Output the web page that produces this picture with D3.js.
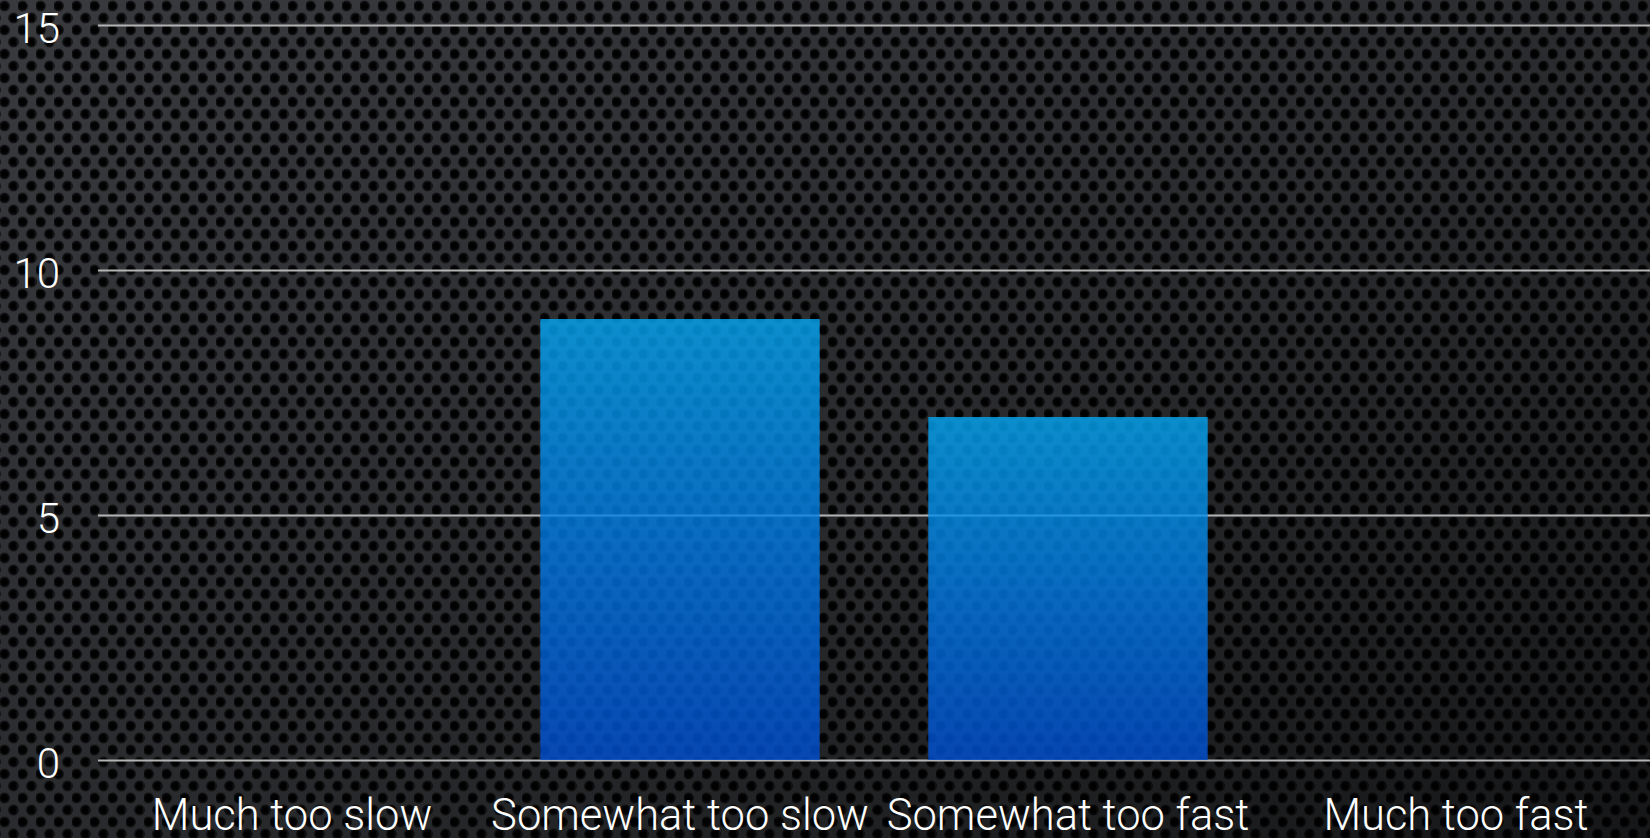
<!DOCTYPE html>
<html>
<head>
<meta charset="utf-8">
<script src="https://cdn.jsdelivr.net/npm/d3@7"></script>
<style>
  html, body { margin: 0; padding: 0; background: #111; }
  svg { display: block; }
</style>
</head>
<body>
<svg id="chart" width="1650" height="838"></svg>
<script>
// Survey answers: how the pace felt
const categories = ["Much too slow", "Somewhat too slow", "Somewhat too fast", "Much too fast"];
const counts = [0, 9, 7, 0];
const yTicks = [0, 5, 10, 15];

const W = 1650, H = 838;
const svg = d3.select("#chart");
const defs = svg.append("defs");

// Perforated carbon texture
const pat = defs.append("pattern")
  .attr("id", "mesh").attr("patternUnits", "userSpaceOnUse")
  .attr("width", 18).attr("height", 24);
const hole = defs.append("radialGradient").attr("id", "hole");
hole.append("stop").attr("offset", "0%").attr("stop-color", "#000");
hole.append("stop").attr("offset", "50%").attr("stop-color", "#030303");
hole.append("stop").attr("offset", "78%").attr("stop-color", "#1a1b1d");
hole.append("stop").attr("offset", "100%").attr("stop-color", "#3e4044").attr("stop-opacity", 0);
pat.append("rect").attr("width", 18).attr("height", 24).attr("fill", "#3e4044");
[[4.5, 6], [13.5, 18], [-4.5, 18], [22.5, 18], [4.5, 30], [13.5, -6]].forEach(([cx, cy]) => {
  pat.append("circle").attr("cx", cx).attr("cy", cy).attr("r", 6.4).attr("fill", "url(#hole)");
});

// Light falloff toward the lower right
const shade = defs.append("linearGradient").attr("id", "shade")
  .attr("x1", "0").attr("y1", "0").attr("x2", "1").attr("y2", "1");
shade.append("stop").attr("offset", "0%").attr("stop-color", "#000").attr("stop-opacity", 0.1);
shade.append("stop").attr("offset", "55%").attr("stop-color", "#000").attr("stop-opacity", 0.35);
shade.append("stop").attr("offset", "100%").attr("stop-color", "#000").attr("stop-opacity", 0.65);

svg.append("rect").attr("width", W).attr("height", H).attr("fill", "url(#mesh)");
svg.append("rect").attr("width", W).attr("height", H).attr("fill", "url(#shade)");

// Bar fill
const barGrad = defs.append("linearGradient").attr("id", "barGrad")
  .attr("x1", "0").attr("y1", "0").attr("x2", "0").attr("y2", "1");
barGrad.append("stop").attr("offset", "0%").attr("stop-color", "#04a6f4");
barGrad.append("stop").attr("offset", "100%").attr("stop-color", "#0050d4");

const plotLeft = 98, plotRight = 1650;
const x = d3.scaleBand().domain(categories).range([plotLeft, plotRight])
  .paddingInner(0.28).paddingOuter(0.14);
const y = d3.scaleLinear().domain([0, 15]).range([760, 25]);

const font = "Roboto, 'Helvetica Neue', Arial, sans-serif";

// Horizontal grid lines with value labels
const yAxis = d3.axisLeft(y).tickValues(yTicks).tickSize(-(plotRight - plotLeft)).tickPadding(38);
const gy = svg.append("g").attr("transform", `translate(${plotLeft},0)`).call(yAxis);
gy.select(".domain").remove();
gy.selectAll(".tick line").attr("stroke", "#b4b4b4").attr("stroke-width", 2);
gy.selectAll(".tick text")
  .attr("fill", "#fff").attr("font-family", font).attr("font-weight", 300)
  .attr("font-size", 42).attr("dy", "0.42em");

// Bars
svg.append("g").selectAll("rect").data(categories).join("rect")
  .attr("x", d => x(d))
  .attr("width", x.bandwidth())
  .attr("y", (d, i) => y(counts[i]))
  .attr("height", (d, i) => y(0) - y(counts[i]))
  .attr("fill", "url(#barGrad)")
  .attr("fill-opacity", 0.8);

// Category labels
const xAxis = d3.axisBottom(x).tickSize(0).tickPadding(0);
const gx = svg.append("g").attr("transform", `translate(0,830)`).call(xAxis);
gx.select(".domain").remove();
gx.selectAll(".tick text")
  .attr("fill", "#fff").attr("font-family", font).attr("font-weight", 300)
  .attr("font-size", 43.5).attr("dy", 0).attr("y", 0);
</script>
</body>
</html>
